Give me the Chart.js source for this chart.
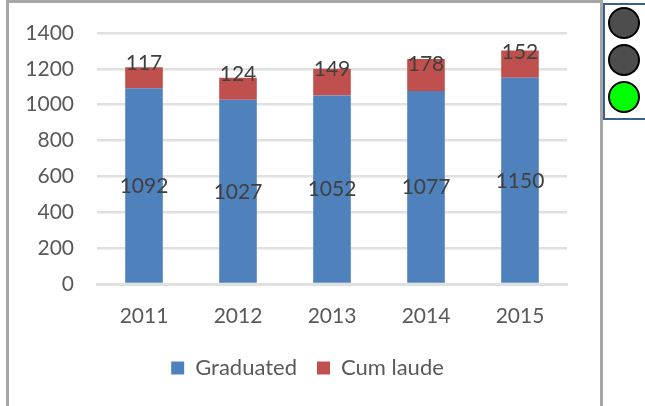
<!DOCTYPE html>
<html><head><meta charset="utf-8">
<script src="https://cdn.jsdelivr.net/npm/chart.js@4"></script>
<style>
html,body{margin:0;padding:0;background:#fff;width:645px;height:406px;overflow:hidden}
#wrap{position:absolute;left:0;top:0;width:645px;height:406px}
#frame{position:absolute;left:6px;top:0;width:591px;height:406px;border:3px solid #a6a6a6;border-bottom:none}
#light{position:absolute;left:603px;top:3px;width:40px;height:113px;border:2px solid #3c5f8f;background:#fff}
.lamp{position:absolute;left:3px;width:28px;height:28px;border-radius:50%;border:2px solid #000;background:#4d4d4d}
</style></head><body>
<div id="frame"></div>
<div id="wrap"><canvas id="c" width="645" height="406"></canvas></div>
<div id="light">
<div class="lamp" style="top:2px"></div>
<div class="lamp" style="top:39px"></div>
<div class="lamp" style="top:76px;background:#00ff00"></div>
</div>
<script>
const years = ['2011','2012','2013','2014','2015'];
const graduated = [1092,1027,1052,1077,1150];
const cumLaude = [117,124,149,178,152];
// The reference's red-series labels were hand-placed: value level at which each label sits
const cumLaudeLabelLevel = [1230,1172,1200,1224,1295];
const yTicks = [0,200,400,600,800,1000,1200,1400];

const FONT = 'Lato, "Open Sans", sans-serif';
const labelPlugin = {
  id:'valueLabels',
  afterLayout(chart){
    chart.legend.left += 24;
    chart.legend.right += 24;
  },
  afterDatasetsDraw(chart){
    const {ctx,scales:{x,y}} = chart;
    ctx.save();
    ctx.font = '21px '+FONT;
    ctx.fillStyle = '#404040';
    ctx.textAlign = 'center';
    ctx.textBaseline = 'middle';
    years.forEach((yr,i)=>{
      ctx.fillText(String(graduated[i]), x.getPixelForValue(i), y.getPixelForValue(graduated[i]/2));
      ctx.fillText(String(cumLaude[i]), x.getPixelForValue(i), y.getPixelForValue(cumLaudeLabelLevel[i]));
    });
    ctx.restore();
  }
};
new Chart(document.getElementById('c'),{
  type:'bar',
  data:{labels:years,datasets:[
    {label:'Graduated',data:graduated,backgroundColor:'#4f81bd',stack:'s'},
    {label:'Cum laude',data:cumLaude,backgroundColor:'#c0504d',stack:'s'}
  ]},
  plugins:[labelPlugin],
  options:{
    responsive:false,animation:false,
    layout:{padding:{left:0,right:78,top:33,bottom:17}},
    datasets:{bar:{barPercentage:0.8,categoryPercentage:0.5}},
    plugins:{
      tooltip:{enabled:false},
      legend:{position:'bottom',labels:{boxWidth:13,boxHeight:13,padding:20,color:'#595959',font:{family:FONT,size:22}}}
    },
    scales:{
      x:{stacked:true,
        afterFit(s){s.height=53;},
        grid:{display:false},
        border:{color:'#e0e0e0',width:3},
        ticks:{color:'#595959',padding:12,font:{family:FONT,size:21},maxRotation:0}},
      y:{stacked:true,min:0,max:1400,
        afterFit(s){s.width=97;s.paddingTop=0;s.paddingBottom=0;},
        afterBuildTicks(s){s.ticks=yTicks.map(v=>({value:v}));},
        grid:{color:'#e0e0e0',lineWidth:2.5,drawTicks:false},
        border:{display:false},
        ticks:{color:'#595959',padding:23,font:{family:FONT,size:21},callback:v=>String(v)}}
    }
  }
});
</script></body></html>
